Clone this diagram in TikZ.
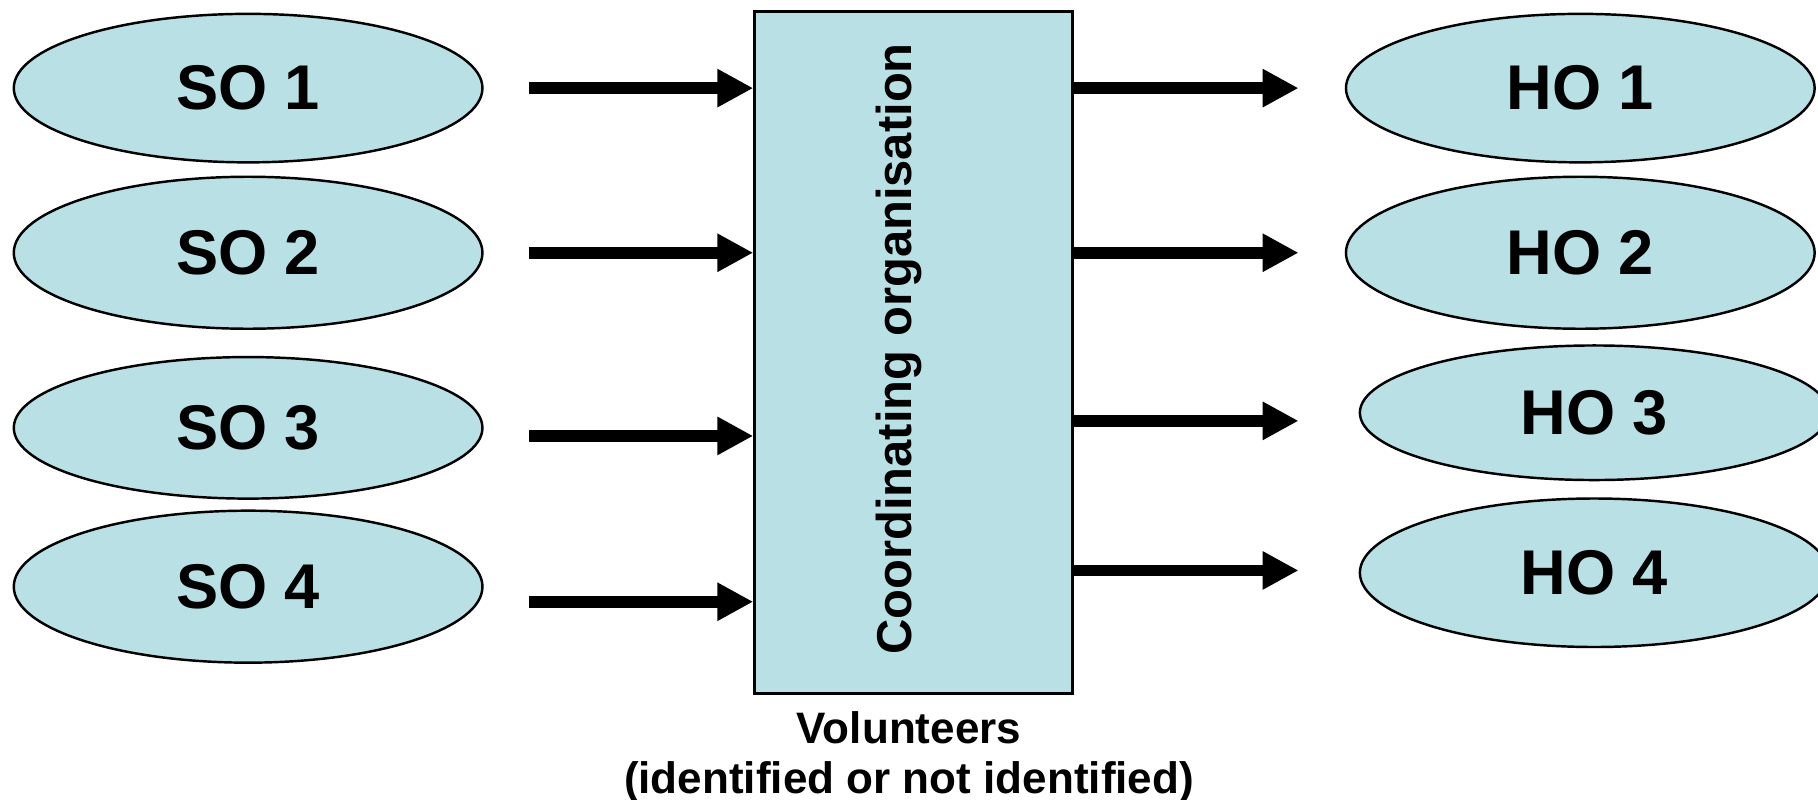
\documentclass[tikz,border=0pt]{standalone}
\usepackage{fontspec}
\setmainfont{Liberation Sans}
\usetikzlibrary{shapes.geometric,arrows.meta}
\definecolor{fillblue}{RGB}{185,224,228}
\tikzset{
  org/.style={ellipse, draw=black, line width=0.6pt, fill=fillblue,
    minimum width=4.04cm, minimum height=1.28cm, inner sep=0pt,
    font=\fontsize{15.5}{19}\selectfont\bfseries},
  arr/.style={line width=0.1cm, -{Triangle[length=0.31cm,width=0.31cm]}},
}
\begin{document}
\begin{tikzpicture}[x=0.01cm,y=-0.01cm]
\useasboundingbox (0,0) rectangle (1568,689.2);
\clip (0,0) rectangle (1568,689.2);
% source organisations
\node[org] (so1) at (214,76) {SO 1};
\node[org, minimum height=1.31cm] (so2) at (214,218) {SO 2};
\node[org, minimum height=1.22cm] (so3) at (214,369) {SO 3};
\node[org, minimum height=1.31cm] (so4) at (214,506) {SO 4};
% host organisations
\node[org] (ho1) at (1363,76) {HO 1};
\node[org, minimum height=1.31cm] (ho2) at (1363,218) {HO 2};
\node[org, minimum height=1.16cm] (ho3) at (1375,356) {HO 3};
\node[org, minimum height=1.28cm] (ho4) at (1375,494) {HO 4};
% coordinating box
\node[draw=black, line width=0.7pt, fill=fillblue, minimum width=2.74cm,
  minimum height=5.88cm, inner sep=0pt] (box) at (788,304) {};
\node[rotate=90, font=\fontsize{12}{14}\selectfont\bfseries] (coord) at (775,301) {Coordinating organisation};
\node[align=center, font=\fontsize{10.8}{12.3}\selectfont\bfseries] (vol) at (784,653) {Volunteers\\(identified or not identified)};
% arrow ends
\coordinate (a1) at (456,76);
\coordinate (a2) at (456,218);
\coordinate (a3) at (456,376);
\coordinate (a4) at (456,519);
\coordinate (b1) at (1120,76);
\coordinate (b2) at (1120,218);
\coordinate (b3) at (1120,363);
\coordinate (b4) at (1120,492);
\draw[arr] (a1) -- (a1 -| box.west);
\draw[arr] (a2) -- (a2 -| box.west);
\draw[arr] (a3) -- (a3 -| box.west);
\draw[arr] (a4) -- (a4 -| box.west);
\draw[arr] (b1 -| box.east) -- (b1);
\draw[arr] (b2 -| box.east) -- (b2);
\draw[arr] (b3 -| box.east) -- (b3);
\draw[arr] (b4 -| box.east) -- (b4);
\end{tikzpicture}
\end{document}
